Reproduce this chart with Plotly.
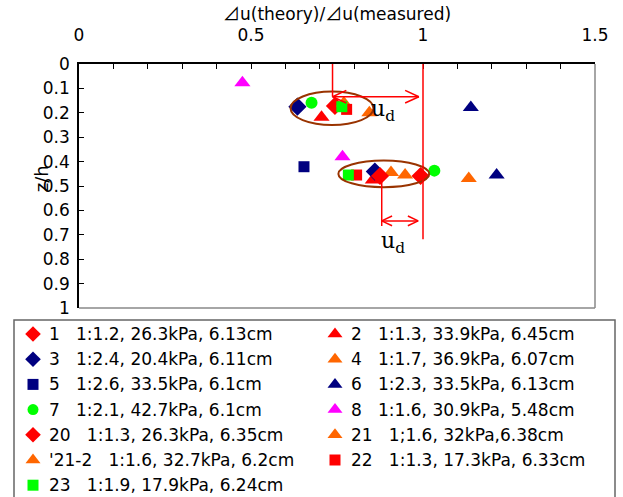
import plotly.graph_objects as go

# ---- data ----
SP = "\u00a0\u00a0\u00a0"
series_labels = [
    ("1", "1:1.2, 26.3kPa, 6.13cm"),
    ("2", "1:1.3, 33.9kPa, 6.45cm"),
    ("3", "1:2.4, 20.4kPa, 6.11cm"),
    ("4", "1:1.7, 36.9kPa, 6.07cm"),
    ("5", "1:2.6, 33.5kPa, 6.1cm"),
    ("6", "1:2.3, 33.5kPa, 6.13cm"),
    ("7", "1:2.1, 42.7kPa, 6.1cm"),
    ("8", "1:1.6, 30.9kPa, 5.48cm"),
    ("20", "1:1.3, 26.3kPa, 6.35cm"),
    ("21", "1;1.6, 32kPa,6.38cm"),
    ("'21-2", "1:1.6, 32.7kPa, 6.2cm"),
    ("22", "1:1.3, 17.3kPa, 6.33cm"),
    ("23", "1:1.9, 17.9kPa, 6.24cm"),
]
series_names = [a + SP + b for a, b in series_labels]

x_1 = [0.744, 0.993]
z_1 = [0.172, 0.459]
x_2 = [0.705, 0.854]
z_2 = [0.218, 0.475]
x_3 = [0.635, 0.860]
z_3 = [0.175, 0.441]
x_4 = [0.844, 0.907]
z_4 = [0.200, 0.445]
x_5 = [0.654]
z_5 = [0.421]
x_6 = [1.139, 1.214]
z_6 = [0.178, 0.455]
x_7 = [0.676, 1.033]
z_7 = [0.159, 0.437]
x_8 = [0.475, 0.766]
z_8 = [0.077, 0.380]
x_20 = [0.875]
z_20 = [0.459]
x_21 = [0.770, 0.948]
z_21 = [0.160, 0.455]
x_21_2 = [1.133]
z_21_2 = [0.469]
x_22 = [0.778, 0.807]
z_22 = [0.186, 0.455]
x_23 = [0.764, 0.783]
z_23 = [0.175, 0.455]

xs = [x_1, x_2, x_3, x_4, x_5, x_6, x_7, x_8, x_20, x_21, x_21_2, x_22, x_23]
zs = [z_1, z_2, z_3, z_4, z_5, z_6, z_7, z_8, z_20, z_21, z_21_2, z_22, z_23]

RED, NAVY, ORANGE, GREEN, MAG = "#FF0000", "#000080", "#FF6600", "#00FF00", "#FF00FF"
colors = [RED, RED, NAVY, ORANGE, NAVY, NAVY, GREEN, MAG, RED, ORANGE, ORANGE, RED, GREEN]
symbols = ["diamond", "triangle-up", "diamond", "triangle-up", "square", "triangle-up",
           "circle", "triangle-up", "diamond", "triangle-up", "triangle-up", "square", "square"]
sizes = {"diamond": 14, "triangle-up": 14, "square": 11, "circle": 12}
legend_sizes = {"diamond": 12, "triangle-up": 13, "square": 11, "circle": 11}

x_ticks = [0, 0.5, 1, 1.5]
z_ticks = [round(i * 0.1, 1) for i in range(11)]

# annotation geometry (data coordinates)
ellipses = [(0.615, 0.113, 0.856, 0.250), (0.754, 0.396, 1.018, 0.505)]
ref_line = (1.0, 0.0, 0.718)
upper_vline = (0.737, 0.0, 0.134)
upper_arrow = (0.737, 0.988, 0.134)
lower_vline = (0.880, 0.459, 0.664)
lower_arrow = (0.880, 0.986, 0.643)
ud_labels = [(0.884, 0.19), (0.914, 0.73)]

W, H = 623, 497
PL, PR, PT, PB = 79, 595, 64, 308          # plot area in pixels
FONT = "DejaVu Sans"
TRI = '<span style="font-family:Noto Sans CJK JP">⊿</span>'

fig = go.Figure()
for name, x, z, c, s in zip(series_names, xs, zs, colors, symbols):
    fig.add_trace(go.Scatter(
        x=x, y=z, mode="markers", name=name, showlegend=False,
        marker=dict(symbol=s, color=c, size=sizes[s], line=dict(width=0)),
        xaxis="x", yaxis="y",
    ))

# ---- hand-built legend (two columns) on an overlay pixel axis ----
LEG_X0, LEG_X1, LEG_TOP = 14, 615, 320
col_marker_x = [33, 335]
col_text_x = [47, 349]
row0_y, row_dy = 334, 25.2
annotations = []
for i, (name, c, s) in enumerate(zip(series_names, colors, symbols)):
    col, row = i % 2, i // 2
    yy = row0_y + row * row_dy
    fig.add_trace(go.Scatter(
        x=[col_marker_x[col]], y=[yy], mode="markers", showlegend=False,
        marker=dict(symbol=s, color=c, size=legend_sizes[s], line=dict(width=0)),
        xaxis="x2", yaxis="y2", cliponaxis=False, hoverinfo="skip",
    ))
    annotations.append(dict(x=col_text_x[col], y=yy, xref="x2", yref="y2",
                            text=name, showarrow=False, xanchor="left", yanchor="middle",
                            font=dict(family=FONT, size=17, color="black")))

shapes = []
shapes.append(dict(type="rect", xref="paper", yref="paper",
                   x0=LEG_X0 / W, x1=LEG_X1 / W, y0=-0.05, y1=1 - LEG_TOP / H,
                   line=dict(color="#666666", width=1.5), fillcolor="rgba(0,0,0,0)", layer="below"))

for (x0, y0, x1, y1) in ellipses:
    shapes.append(dict(type="circle", xref="x", yref="y", x0=x0, y0=y0, x1=x1, y1=y1,
                       line=dict(color="#993300", width=2)))

def seg(xa, ya, xb, yb):
    return dict(type="line", xref="x", yref="y", x0=xa, y0=ya, x1=xb, y1=yb,
                line=dict(color=RED, width=1.5))

shapes.append(seg(ref_line[0], ref_line[1], ref_line[0], ref_line[2]))
shapes.append(seg(upper_vline[0], upper_vline[1], upper_vline[0], upper_vline[2]))
shapes.append(seg(lower_vline[0], lower_vline[1], lower_vline[0], lower_vline[2]))

def double_arrow(xa, xb, y, hx, hy):
    out = [seg(xa, y, xb, y)]
    out.append(seg(xa, y, xa + hx, y - hy))
    out.append(seg(xa, y, xa + hx, y + hy))
    out.append(seg(xb, y, xb - hx, y - hy))
    out.append(seg(xb, y, xb - hx, y + hy))
    return out

shapes += double_arrow(upper_arrow[0], upper_arrow[1], upper_arrow[2], 0.040, 0.026)
shapes += double_arrow(lower_arrow[0], lower_arrow[1], lower_arrow[2], 0.030, 0.020)

# right and bottom frame lines (gray)
xd = [PL / W, PR / W]
yd = [1 - PB / H, 1 - PT / H]
shapes.append(dict(type="line", xref="paper", yref="paper", x0=xd[1], y0=yd[0], x1=xd[1], y1=yd[1],
                   line=dict(color="#888888", width=1.5)))
shapes.append(dict(type="line", xref="paper", yref="paper", x0=xd[0], y0=yd[0], x1=xd[1], y1=yd[0],
                   line=dict(color="#888888", width=1.5)))

for (ux, uy) in ud_labels:
    annotations.append(dict(x=ux, y=uy, xref="x", yref="y", showarrow=False,
                            text="u<sub>d</sub>",
                            font=dict(family="DejaVu Serif", size=22, color="black")))
annotations.append(dict(x=29 / W, y=0.47, xref="paper", yref="y", showarrow=False,
                        text="z/h", textangle=-90,
                        font=dict(family=FONT, size=18, color="black")))
annotations.append(dict(x=(PL + PR) / 2 / W, y=1 - 13 / H, xref="paper", yref="paper",
                        showarrow=False, text=TRI + "u(theory)/" + TRI + "u(measured)",
                        xanchor="center", yanchor="middle",
                        font=dict(family=FONT, size=17, color="black")))

fig.update_layout(
    template="none",
    width=W, height=H,
    margin=dict(l=0, r=0, t=0, b=0, pad=0, autoexpand=False),
    paper_bgcolor="white", plot_bgcolor="rgba(0,0,0,0)",
    font=dict(family=FONT, size=17, color="black"),
    shapes=shapes, annotations=annotations,
    showlegend=False,
    xaxis=dict(
        domain=xd, anchor="y", side="top", range=[0, 1.5],
        tickvals=x_ticks, ticktext=[str(v) for v in x_ticks],
        ticks="inside", ticklen=5, tickcolor="black", tickwidth=1,
        minor=dict(dtick=0.1, ticks="inside", ticklen=5, tickcolor="black", showgrid=False),
        showline=True, linecolor="black", linewidth=1.5, showgrid=False, zeroline=False,
        tickfont=dict(family=FONT, size=17), ticklabelstandoff=14, automargin=False,
    ),
    yaxis=dict(
        domain=yd, anchor="x", range=[1, 0], tickvals=z_ticks,
        ticktext=[("%g" % v) for v in z_ticks],
        ticks="inside", ticklen=5, tickcolor="black", tickwidth=1,
        showline=True, linecolor="black", linewidth=1.5, showgrid=False, zeroline=False,
        tickfont=dict(family=FONT, size=17), ticklabelstandoff=4, automargin=False,
    ),
    xaxis2=dict(domain=[0, 1], anchor="y2", range=[0, W], visible=False, fixedrange=True),
    yaxis2=dict(domain=[0, 1], anchor="x2", range=[H, 0], visible=False, fixedrange=True),
)

fig.write_html("out.html")
